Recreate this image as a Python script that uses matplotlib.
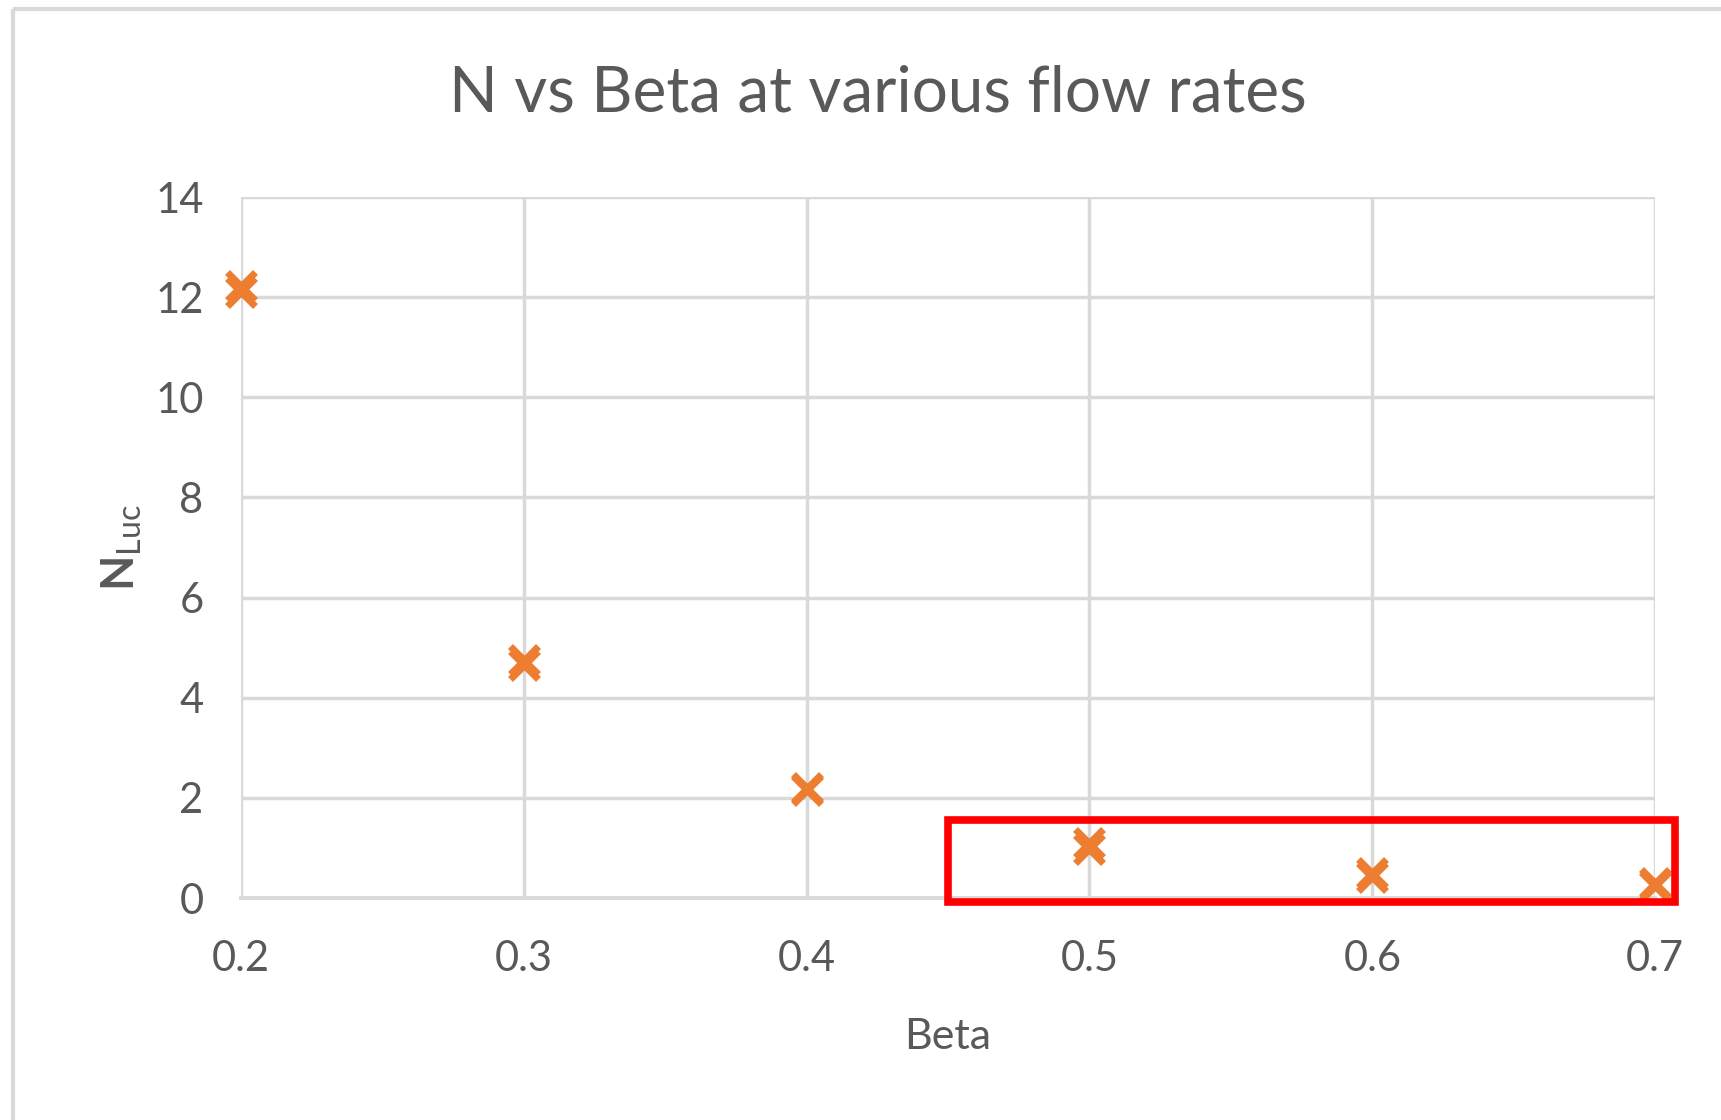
import matplotlib
matplotlib.use("Agg")
import matplotlib.pyplot as plt
from matplotlib.patches import Rectangle
from matplotlib.lines import Line2D

plt.rcParams['font.family'] = ['Lato', 'DejaVu Sans']
plt.rcParams['mathtext.fontset'] = 'custom'
plt.rcParams['mathtext.rm'] = 'Lato'
plt.rcParams['mathtext.bf'] = 'Lato:bold'

# Measured points (two flow rates per beta)
beta = [0.2, 0.2, 0.3, 0.3, 0.4, 0.4, 0.5, 0.5, 0.6, 0.6, 0.7, 0.7]
n_luc = [12.11, 12.23, 4.65, 4.75, 2.16, 2.19, 0.98, 1.10, 0.42, 0.50, 0.24, 0.30]

x_ticks = [0.2, 0.3, 0.4, 0.5, 0.6, 0.7]
y_ticks = [0, 2, 4, 6, 8, 10, 12, 14]

# Highlighted region (low-N range)
box_x = [0.45, 0.707]
box_y = [-0.07, 1.55]

text_color = '#595959'
grid_color = '#d9d9d9'
marker_color = '#ED7D31'

fig = plt.figure(figsize=(17.21, 11.20), dpi=100)
fig.patch.set_facecolor('white')

# Chart-area frame
fig.add_artist(Line2D([0.0075, 0.0075], [0, 1 - 9 / 1120], transform=fig.transFigure,
                      color=grid_color, lw=3, solid_capstyle='butt'))
fig.add_artist(Line2D([0.0075, 1.0], [1 - 9 / 1120, 1 - 9 / 1120], transform=fig.transFigure,
                      color=grid_color, lw=3, solid_capstyle='butt'))

ax = fig.add_axes([0.140, 0.1982, 0.8217, 0.6259])

ax.plot(beta, n_luc, linestyle='none', marker='x', markersize=20,
        markeredgewidth=5.0, color=marker_color, zorder=3, clip_on=False)

ax.set_xlim(0.2, 0.7)
ax.set_ylim(0, 14)
ax.set_xticks(x_ticks)
ax.set_xticklabels([f"{v:.1f}" for v in x_ticks])
ax.set_yticks(y_ticks)

for s in ['top', 'right', 'left']:
    ax.spines[s].set_visible(False)
ax.spines['bottom'].set_color(grid_color)
ax.spines['bottom'].set_linewidth(2.8)
ax.spines['bottom'].set_zorder(2)

ax.grid(True, color=grid_color, linewidth=2.5, zorder=0)
ax.set_axisbelow(True)
ax.tick_params(axis='both', length=0, labelsize=30, labelcolor=text_color)
ax.tick_params(axis='x', pad=30)
ax.tick_params(axis='y', pad=27)

fig.text(0.51, 1 - 93 / 1120, "N vs Beta at various flow rates", fontsize=46,
         color=text_color, ha='center', va='center')
ax.set_xlabel("Beta", fontsize=31, color=text_color, labelpad=29)
ax.set_ylabel(r"$\mathbf{N}_{\mathrm{Luc}}$", fontsize=33, color=text_color, labelpad=8)

rect = Rectangle((box_x[0], box_y[0]), box_x[1] - box_x[0], box_y[1] - box_y[0],
                 fill=False, edgecolor='#FF0000', linewidth=5.5, zorder=5, clip_on=False)
ax.add_patch(rect)

fig.savefig("out.png", dpi=100, facecolor='white')
